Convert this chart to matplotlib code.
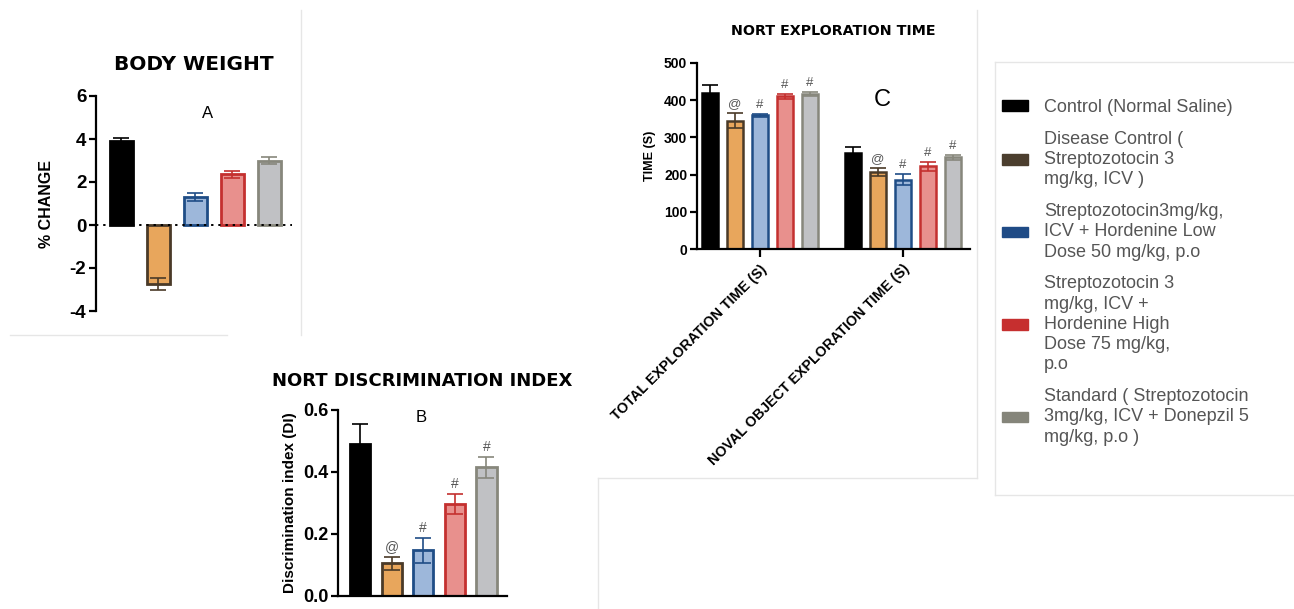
import matplotlib
matplotlib.use("Agg")
import matplotlib.pyplot as plt
from matplotlib.patches import Patch
from matplotlib.lines import Line2D

plt.rcParams["font.family"] = ["Liberation Sans", "DejaVu Sans"]
plt.rcParams["axes.unicode_minus"] = False

# treatment groups (legend text keeps the original line breaks)
groups = [
    "Control (Normal Saline)",
    "Disease Control (\nStreptozotocin 3\nmg/kg, ICV )",
    "Streptozotocin3mg/kg,\nICV + Hordenine Low\nDose 50 mg/kg, p.o",
    "Streptozotocin 3\nmg/kg, ICV +\nHordenine High\nDose 75 mg/kg,\np.o",
    "Standard ( Streptozotocin\n3mg/kg, ICV + Donepzil 5\nmg/kg, p.o )",
]
fill_colors = ["#000000", "#E8A65C", "#9DB7DA", "#E8908D", "#C0C1C4"]
edge_colors = ["#000000", "#4A3A28", "#1F4D86", "#C4302F", "#87877C"]
legend_colors = ["#000000", "#4B3E2E", "#1F4B86", "#C62F2F", "#85857A"]

# A: body weight, % change
bw_mean = [3.9, -2.75, 1.3, 2.35, 3.0]
bw_sem = [0.15, 0.27, 0.17, 0.18, 0.17]

# B: NORT discrimination index
di_mean = [0.49, 0.105, 0.148, 0.298, 0.415]
di_sem = [0.065, 0.022, 0.04, 0.032, 0.035]
di_marks = ["", "@", "#", "#", "#"]

# C: NORT exploration time (s)
nort_cats = ["TOTAL EXPLORATION TIME (S)", "NOVAL OBJECT EXPLORATION TIME (S)"]
total_mean = [420, 345, 360, 410, 416]
total_sem = [22, 20, 4, 6, 6]
noval_mean = [258, 207, 186, 222, 246]
noval_sem = [17, 12, 15, 13, 8]
nort_marks = ["", "@", "#", "#", "#"]

TITLE_FONT = ["DejaVu Sans"]


def draw_bars(ax, xs, means, sems, width, marks=None, mark_size=10, lw=2):
    for i, (x, m, s) in enumerate(zip(xs, means, sems)):
        ax.bar(x, m, width, color=fill_colors[i], edgecolor=edge_colors[i],
               linewidth=lw, zorder=2)
        ax.errorbar(x, m, yerr=s, color=edge_colors[i], capsize=width * 9,
                    elinewidth=1.2, capthick=1.2, zorder=3)
        if marks and marks[i]:
            top = m + s if m >= 0 else m
            ax.annotate(marks[i], (x, top), xytext=(0, 2), textcoords="offset points",
                        ha="center", va="bottom", fontsize=mark_size, color="#555555")


def style_axis(ax, labelsize):
    for side in ["top", "right"]:
        ax.spines[side].set_visible(False)
    for side in ["left", "bottom"]:
        ax.spines[side].set_linewidth(1.6)
    ax.tick_params(axis="y", labelsize=labelsize, width=1.6, length=5, pad=2)
    for lab in ax.get_yticklabels():
        lab.set_fontweight("bold")


fig = plt.figure(figsize=(12.94, 6.09), dpi=100)
W, H = 1294, 609


def px_axes(x0, y_top, x1, y_bot):
    return fig.add_axes([x0 / W, 1 - y_bot / H, (x1 - x0) / W, (y_bot - y_top) / H])


# ---- panel A
axA = px_axes(96, 96, 292, 311)
draw_bars(axA, range(5), bw_mean, bw_sem, 0.62)
axA.axhline(0, color="black", linestyle=(0, (1.2, 2.5)), linewidth=1.4, zorder=4)
axA.set_xlim(-0.68, 4.62)
axA.set_ylim(-4, 6)
axA.set_yticks([-4, -2, 0, 2, 4, 6])
axA.set_xticks([])
axA.spines["bottom"].set_visible(False)
style_axis(axA, 13.5)
axA.set_ylabel("% CHANGE", fontsize=11.5, fontweight="bold", labelpad=11)
axA.set_title("BODY WEIGHT", fontsize=14.5, fontweight="bold", family=TITLE_FONT, pad=19)
axA.text(0.57, 0.92, "A", transform=axA.transAxes, fontsize=12, ha="center", va="center")

# ---- panel B
axB = px_axes(338, 410, 507, 596)
draw_bars(axB, range(5), di_mean, di_sem, 0.64, di_marks, mark_size=10)
axB.set_xlim(-0.70, 4.65)
axB.set_ylim(0, 0.6)
axB.set_yticks([0.0, 0.2, 0.4, 0.6])
axB.set_yticklabels(["0.0", "0.2", "0.4", "0.6"])
axB.set_xticks([])
style_axis(axB, 13)
axB.set_ylabel("Discrimination index (DI)", fontsize=11, fontweight="bold", labelpad=4)
axB.set_title("NORT DISCRIMINATION INDEX", fontsize=13, fontweight="bold", family=TITLE_FONT, pad=17)
axB.text(0.49, 0.96, "B", transform=axB.transAxes, fontsize=12, ha="center", va="center")

# ---- panel C
axC = px_axes(697, 63, 970, 249)
group_gap = 5.7
for g, (means, sems) in enumerate([(total_mean, total_sem), (noval_mean, noval_sem)]):
    xs = [g * group_gap + k - 2 for k in range(5)]
    draw_bars(axC, xs, means, sems, 0.64, nort_marks, mark_size=9.5, lw=1.8)
axC.set_xlim(-2.52, 8.4)
axC.set_ylim(0, 500)
axC.set_yticks(range(0, 501, 100))
axC.set_xticks([0, group_gap])
axC.set_xticklabels(nort_cats, rotation=45, ha="right", rotation_mode="anchor",
                    fontsize=10.3, fontweight="bold")
axC.tick_params(axis="x", width=1.6, length=6)
style_axis(axC, 10)
axC.set_ylabel("TIME (S)", fontsize=9, fontweight="bold", labelpad=6)
axC.set_title("NORT EXPLORATION TIME", fontsize=10.3, fontweight="bold", family=TITLE_FONT, pad=20)
axC.text(0.68, 0.80, "C", transform=axC.transAxes, fontsize=17, ha="center", va="center")

# ---- legend
handles = [Patch(facecolor=c, edgecolor=c) for c in legend_colors]
leg = fig.legend(handles, groups, loc="upper left", bbox_to_anchor=(1002 / W, 1 - 99 / H),
                 frameon=False, fontsize=13, labelcolor="#555555", handlelength=1.44,
                 handleheight=0.5, handletextpad=0.9, labelspacing=0.82,
                 borderaxespad=0, borderpad=0)
for t in leg.get_texts():
    t.set_linespacing(1.25)

# faint borders of the pasted panels
border_segments = [
    ((10, 227), (335, 335)),
    ((301, 301), (10, 335)),
    ((977, 977), (10, 478)),
    ((598, 977), (478, 478)),
    ((598, 598), (478, 609)),
    ((995, 1294), (62, 62)),
    ((995, 1294), (495, 495)),
    ((995, 995), (62, 495)),
]
for xs, ys in border_segments:
    fig.add_artist(Line2D([x / W for x in xs], [1 - y / H for y in ys],
                          color="#E6E6E6", linewidth=1))

fig.savefig("out.png", dpi=100)
